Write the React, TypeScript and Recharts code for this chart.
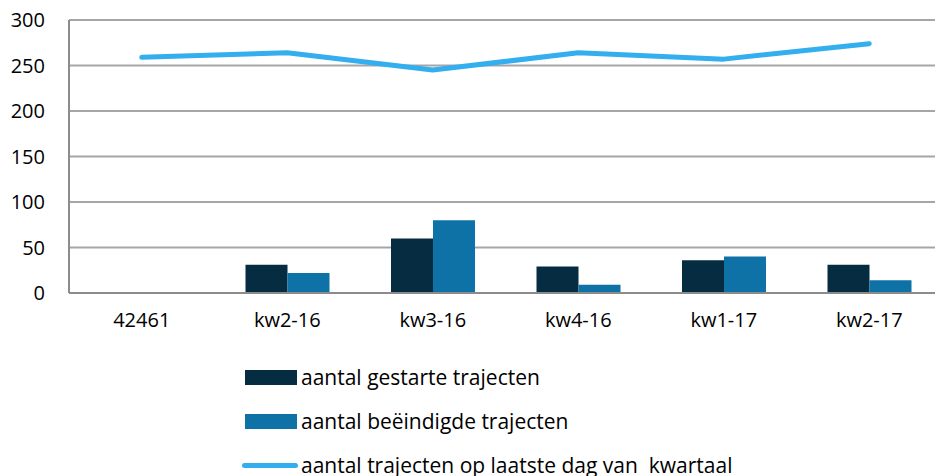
import React from "react";
import { ComposedChart, Bar, Line, XAxis, YAxis, CartesianGrid } from "recharts";

const categories = ["42461", "kw2-16", "kw3-16", "kw4-16", "kw1-17", "kw2-17"];
const gestart = [null, 31, 60, 29, 36, 31];
const beeindigd = [null, 22, 80, 9, 40, 14];
const lopend = [259, 264, 245, 264, 257, 274];
const yTicks = [0, 50, 100, 150, 200, 250, 300];

const seriesNames = {
  gestart: "aantal gestarte trajecten",
  beeindigd: "aantal beëindigde trajecten",
  lopend: "aantal trajecten op laatste dag van  kwartaal",
};

const colors = { gestart: "#062C41", beeindigd: "#0E72A7", lopend: "#33AEEE" };

const data = categories.map((c, i) => ({
  name: c,
  gestart: gestart[i],
  beeindigd: beeindigd[i],
  lopend: lopend[i],
}));

const FONT = "'Open Sans', sans-serif";

const LegendBlock = () => {
  const items = [
    { key: "gestart", type: "rect" },
    { key: "beeindigd", type: "rect" },
    { key: "lopend", type: "line" },
  ];
  return (
    <div
      style={{
        position: "absolute",
        left: 245,
        top: 355,
        fontFamily: FONT,
        fontSize: 21,
        color: "#000",
      }}
    >
      {items.map((it) => (
        <div
          key={it.key}
          style={{ display: "flex", alignItems: "center", height: 44, whiteSpace: "pre" }}
        >
          {it.type === "rect" ? (
            <div style={{ width: 52, height: 15, background: (colors as any)[it.key], marginRight: 4 }} />
          ) : (
            <div
              style={{
                width: 56,
                height: 5,
                borderRadius: 3,
                background: (colors as any)[it.key],
                marginLeft: -3,
                marginRight: 3,
              }}
            />
          )}
          <span>{(seriesNames as any)[it.key]}</span>
        </div>
      ))}
    </div>
  );
};

export default function App() {
  return (
    <div style={{ position: "absolute", left: 0, top: 0, width: 935, height: 476, overflow: "hidden", background: "#fff" }}>
      <ComposedChart
        width={942}
        height={476}
        data={data}
        margin={{ top: 20, right: 0, bottom: 143, left: 0 }}
        barCategoryGap={31}
        barGap={0}
      >
        <CartesianGrid vertical={false} stroke="#A6A6A6" strokeWidth={2} />
        <XAxis
          dataKey="name"
          axisLine={{ stroke: "#8C8C8C", strokeWidth: 2 }}
          tickLine={false}
          tickSize={0}
          tickMargin={20}
          height={40}
          tick={{ fill: "#000", fontSize: 20, fontFamily: FONT }}
          interval={0}
        />
        <YAxis
          domain={[0, 300]}
          ticks={yTicks}
          width={69}
          axisLine={{ stroke: "#8C8C8C", strokeWidth: 2 }}
          tickLine={false}
          tickSize={0}
          tickMargin={24}
          tick={{ fill: "#000", fontSize: 20, fontFamily: FONT }}
          interval={0}
        />
        <Bar dataKey="gestart" name={seriesNames.gestart} fill={colors.gestart} isAnimationActive={false} />
        <Bar dataKey="beeindigd" name={seriesNames.beeindigd} fill={colors.beeindigd} isAnimationActive={false} />
        <Line
          dataKey="lopend"
          name={seriesNames.lopend}
          stroke={colors.lopend}
          strokeWidth={5}
          strokeLinecap="round"
          strokeLinejoin="round"
          dot={false}
          activeDot={false}
          type="linear"
          isAnimationActive={false}
        />
      </ComposedChart>
      <LegendBlock />
    </div>
  );
}
